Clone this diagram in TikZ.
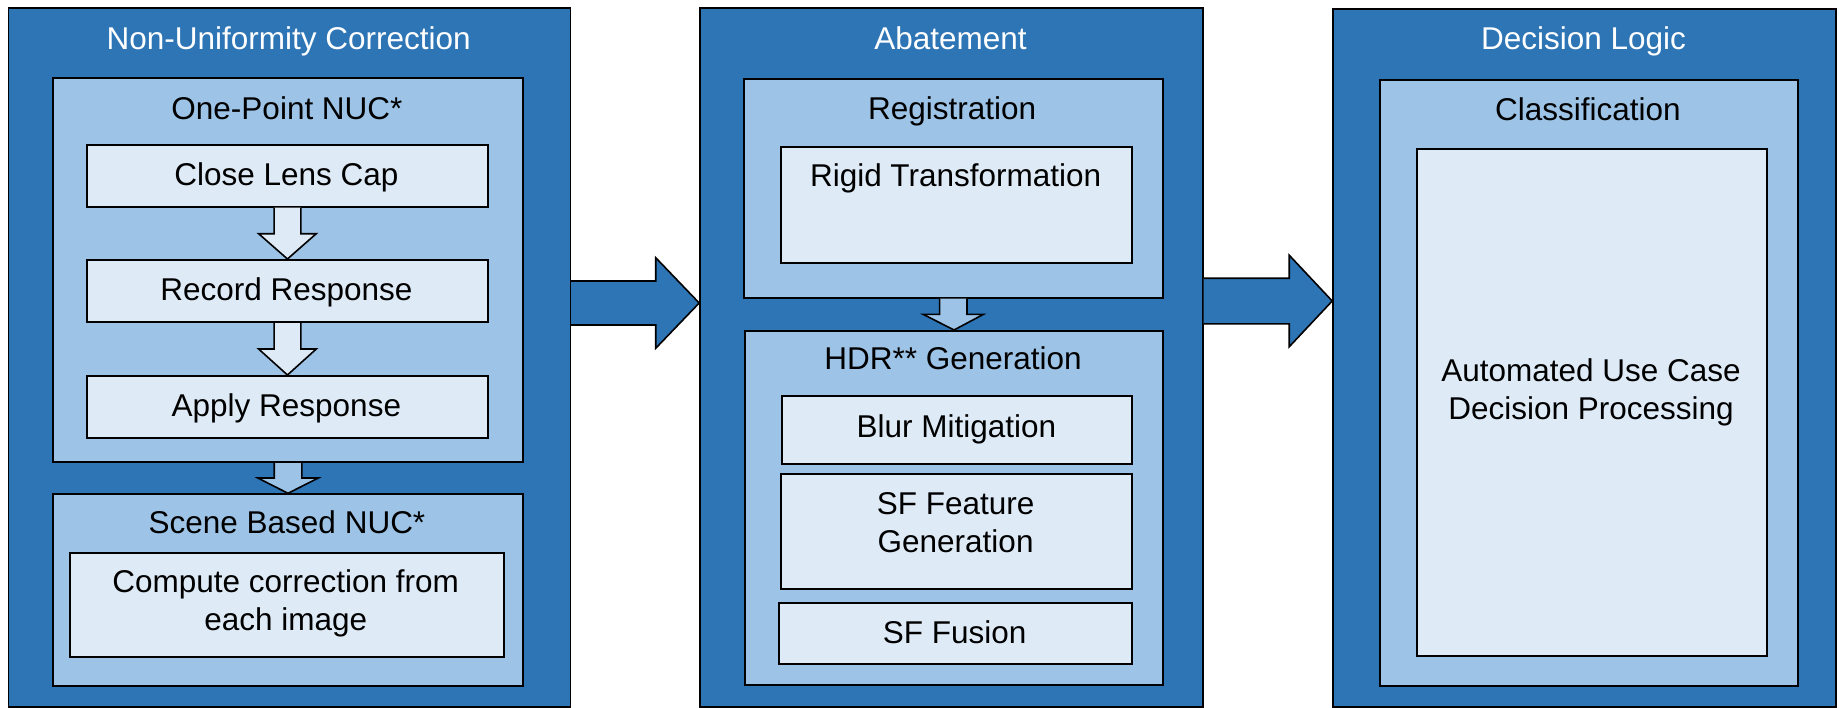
\documentclass[tikz,border=0pt]{standalone}
\usepackage{fontspec}
\setmainfont{Liberation Sans}
\usetikzlibrary{calc}
\definecolor{darkb}{HTML}{2E75B6}
\definecolor{midb}{HTML}{9DC3E6}
\definecolor{lightb}{HTML}{DEEBF7}
\newcommand\blkdown[6]{%
  \filldraw[fill=#6,draw=black,line width=1.6pt,line join=miter]
    ($(#1.south)+(-#4,0)$) -- ($(#1.south)+(-#4,#3)$) -- ($(#1.south)+(-#5,#3)$)
    -- (#2.north) -- ($(#1.south)+(#5,#3)$) -- ($(#1.south)+(#4,#3)$)
    -- ($(#1.south)+(#4,0)$);}
\begin{document}
\begin{tikzpicture}[x=1pt,y=-1pt,
  outerbox/.style={draw=black,fill=darkb,line width=1.6pt,anchor=north west,inner sep=0pt},
  midbox/.style={draw=black,fill=midb,line width=2pt,anchor=north west,inner sep=0pt},
  innerbox/.style={draw=black,fill=lightb,line width=2pt,anchor=north west,inner sep=0pt},
  ttl/.style={anchor=base,inner sep=0pt,text=white,font=\fontsize{31.5}{38}\selectfont},
  lbl/.style={anchor=base,inner sep=0pt,text=black,align=center,font=\fontsize{31.5}{38}\selectfont},
  bigarrow/.style={fill=darkb,draw=black,line width=1.6pt,line join=miter}]
\useasboundingbox (0,0) rectangle (1839,707);
% outer boxes
\node[outerbox,minimum width=561.8pt,minimum height=699pt] (outerA) at (7.7,7.3) {};
\node[outerbox,minimum width=502.7pt,minimum height=699pt] (outerB) at (699.2,7.3) {};
\node[outerbox,minimum width=502.7pt,minimum height=698.3pt] (outerC) at (1332.2,8) {};
% big arrows
\coordinate (ya) at (0,303);
\coordinate (yb) at (0,301);
\filldraw[bigarrow] ($(outerA.east|-ya)+(0,-22)$) -- ($(outerB.west|-ya)+(-43.5,-22)$)
  -- ($(outerB.west|-ya)+(-43.5,-45.3)$) -- (outerB.west|-ya)
  -- ($(outerB.west|-ya)+(-43.5,45.3)$) -- ($(outerB.west|-ya)+(-43.5,22)$)
  -- ($(outerA.east|-ya)+(0,22)$);
\filldraw[bigarrow] ($(outerB.east|-yb)+(0,-22.8)$) -- ($(outerC.west|-yb)+(-43,-22.8)$)
  -- ($(outerC.west|-yb)+(-43,-45.8)$) -- (outerC.west|-yb)
  -- ($(outerC.west|-yb)+(-43,45.8)$) -- ($(outerC.west|-yb)+(-43,22.8)$)
  -- ($(outerB.east|-yb)+(0,22.8)$);
% titles
\node[ttl] (tA) at (288.6,49.3) {Non-Uniformity Correction};
\node[ttl] (tB) at (950.5,49.3) {Abatement};
\node[ttl] (tC) at (1583.5,49.3) {Decision Logic};
% column A
\node[midbox,minimum width=470.7pt,minimum height=383.7pt] (oneP) at (51.7,77.3) {};
\node[lbl] (oneT) at (287,119) {One-Point NUC*};
\node[innerbox,minimum width=400.7pt,minimum height=61.7pt] (close) at (86.1,144) {};
\node[lbl] at (286.4,185) {Close Lens Cap};
\node[innerbox,minimum width=400.7pt,minimum height=62pt] (record) at (86.1,259) {};
\node[lbl] at (286.4,300) {Record Response};
\node[innerbox,minimum width=400.7pt,minimum height=61.7pt] (apply) at (86.1,375) {};
\node[lbl] at (286.4,416) {Apply Response};
\blkdown{close}{record}{26}{13.4}{28.8}{lightb}
\blkdown{record}{apply}{26}{13.4}{28.8}{lightb}
\node[midbox,minimum width=469.2pt,minimum height=191.7pt] (scene) at (52.4,493.3) {};
\node[lbl] (sceneT) at (287,533.3) {Scene Based NUC*};
\node[innerbox,minimum width=433.6pt,minimum height=104pt] (compute) at (68.9,551.7) {};
\node[lbl] at (285.7,630.7) {Compute correction from\\each image};
\blkdown{oneP}{scene}{15}{13.8}{30.2}{midb}
% column B
\node[midbox,minimum width=419.1pt,minimum height=219pt] (reg) at (742.7,77.7) {};
\node[lbl] (regT) at (952.2,119) {Registration};
\node[innerbox,minimum width=351.6pt,minimum height=116.3pt] (rigid) at (779.8,146) {};
\node[lbl] at (955.6,186.7) {Rigid Transformation};
\node[midbox,minimum width=417.5pt,minimum height=354pt] (hdr) at (744.3,330) {};
\node[lbl] (hdrT) at (953,369.3) {HDR** Generation};
\blkdown{reg}{hdr}{15.6}{13.7}{30.2}{midb}
\node[innerbox,minimum width=350pt,minimum height=68.3pt] (blur) at (781.4,395) {};
\node[lbl] at (956.4,437.3) {Blur Mitigation};
\node[innerbox,minimum width=351.6pt,minimum height=115pt] (sffeat) at (779.8,473.3) {};
\node[lbl] at (955.6,552.3) {SF Feature\\Generation};
\node[innerbox,minimum width=353.5pt,minimum height=61pt] (sffus) at (777.9,602.3) {};
\node[lbl] at (954.6,643.3) {SF Fusion};
% column C
\node[midbox,minimum width=418.2pt,minimum height=605.7pt] (cls) at (1378.8,79.3) {};
\node[lbl] (clsT) at (1587.9,120.7) {Classification};
\node[innerbox,minimum width=350.6pt,minimum height=506.7pt] (auto) at (1415.8,148.3) {};
\node[lbl] at (1591.1,419.3) {Automated Use Case\\Decision Processing};
\end{tikzpicture}
\end{document}
